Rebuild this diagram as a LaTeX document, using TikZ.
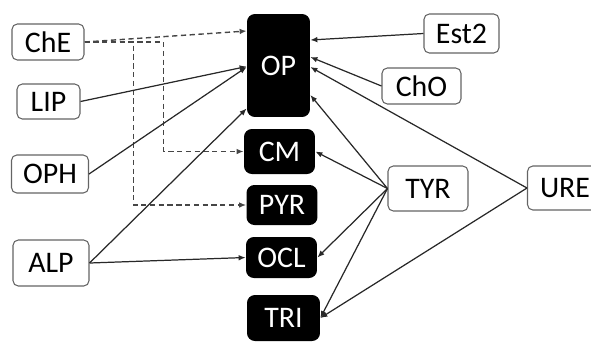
\documentclass[tikz,border=0pt]{standalone}
\usepackage{fontspec}
\setmainfont{Carlito}
\usetikzlibrary{arrows,arrows.meta}
\usetikzlibrary{calc}
\definecolor{linie}{RGB}{40,40,40}
\definecolor{strich}{RGB}{70,70,70}
\definecolor{rahmen}{RGB}{100,100,100}

\begin{document}
\begin{tikzpicture}[x=0.02cm, y=-0.02cm,
	enzym/.style={draw=rahmen, line width=0.6pt, rounded corners=3pt, fill=white, text=black, inner sep=0pt, font=\fontsize{17}{19}\selectfont},
	pest/.style={fill=black, rounded corners=4.5pt, text=white, inner sep=0pt, font=\fontsize{17}{19}\selectfont},
	pfeil/.style={linie, line width=0.7pt, -{Latex[length=4pt,width=3.2pt]}},
	strichpfeil/.style={strich, line width=0.8pt, dash pattern=on 3pt off 2pt, -{Latex[length=4pt,width=3.2pt]}}]

	\useasboundingbox (0,0) rectangle (591,342);

	% Enzyme links
	\node[enzym, minimum width=1.44cm, minimum height=0.72cm] (che) at (48,42) {ChE};
	\node[enzym, minimum width=1.26cm, minimum height=0.7cm] (lip) at (48.5,101.5) {LIP};
	\node[enzym, minimum width=1.54cm, minimum height=0.76cm] (oph) at (50,174) {OPH};
	\node[enzym, minimum width=1.52cm, minimum height=0.92cm] (alp) at (51,263) {ALP};

	% Pestizide
	\node[pest, minimum width=1.26cm, minimum height=2.06cm] (op) at (278.5,65.5) {OP};
	\node[pest, minimum width=1.42cm, minimum height=0.9cm] (cm) at (279.5,151.5) {CM};
	\node[pest, minimum width=1.42cm, minimum height=0.8cm] (pyr) at (282,205) {PYR};
	\node[pest, minimum width=1.42cm, minimum height=0.82cm] (ocl) at (281.5,257.5) {OCL};
	\node[pest, minimum width=1.46cm, minimum height=0.92cm] (tri) at (283.5,318) {TRI};

	% Enzyme rechts
	\node[enzym, minimum width=1.5cm, minimum height=0.78cm] (est) at (461.5,33.5) {Est2};
	\node[enzym, minimum width=1.58cm, minimum height=0.72cm] (cho) at (421.5,86) {ChO};
	\node[enzym, minimum width=1.6cm, minimum height=0.9cm] (tyr) at (428,188.5) {TYR};
	\node[enzym, minimum width=1.5cm, minimum height=0.88cm] (ure) at (565,188) {URE};

	% gestrichelt
	\draw[strichpfeil] (che.east) -- ($(op.west)+(0,-34.5)$);
	\draw[strichpfeil] (che.east) -- ++(79,0) |- (cm.west);
	\draw[strichpfeil] (che.east) -- ++(49,0) |- (pyr.west);

	% links
	\draw[pfeil] (lip.east) -- ($(op.west)+(0,1)$);
	\draw[pfeil] (oph.east) -- ($(op.west)+(0,1.5)$);
	\draw[pfeil] (alp.east) -- ($(op.west)+(0,43)$);
	\draw[pfeil] (alp.east) -- (ocl.west);

	% rechts
	\draw[pfeil] (est.west) -- ($(op.east)+(0,-25.5)$);
	\draw[pfeil] (cho.west) -- ($(op.east)+(0,-8.5)$);
	\draw[pfeil] (ure.west) -- ($(op.east)+(0,1.5)$);
	\draw[pfeil] (tyr.west) -- ($(op.east)+(0,29.5)$);
	\draw[pfeil] (tyr.west) -- (cm.east);
	\draw[pfeil] (tyr.west) -- (ocl.east);
	\draw[pfeil] (tyr.west) -- (tri.east);
	\draw[pfeil] (ure.west) -- (tri.east);

\end{tikzpicture}
\end{document}
